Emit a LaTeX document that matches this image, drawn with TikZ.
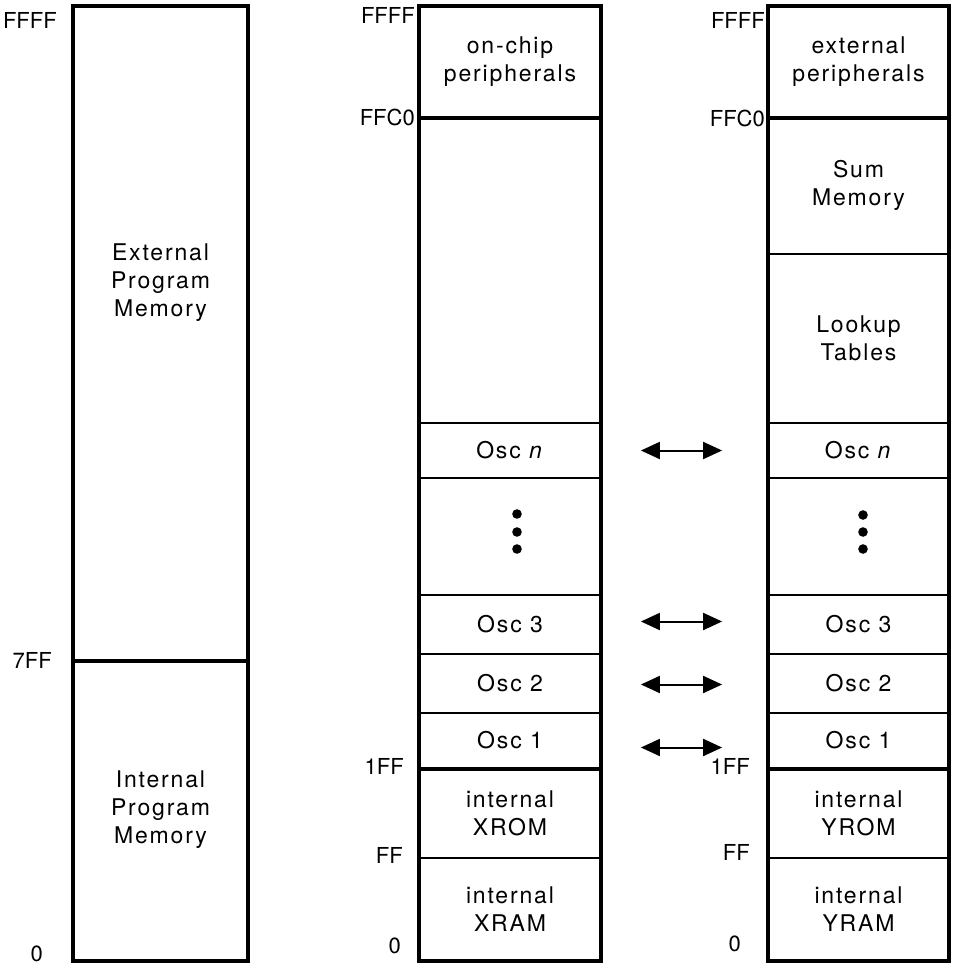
\documentclass[tikz,border=0pt]{standalone}
\usepackage{fontspec}
\setmainfont{TeX Gyre Heros}[LetterSpace=8]
\newfontfamily\addrfont{TeX Gyre Heros}
\usetikzlibrary{arrows.meta}

\begin{document}
\begin{tikzpicture}[x=1pt, y=-1pt,
    every node/.style={align=center, font=\fontsize{23}{28}\selectfont},
    seg/.style={draw, line width=1.8pt, inner sep=0pt},
    addr/.style={anchor=east, inner sep=0pt, font=\addrfont\fontsize{22}{24}\selectfont},
    frame/.style={line width=3.6pt},
    link/.style={{Triangle[length=19pt,width=17pt]}-{Triangle[length=19pt,width=17pt]}, line width=2pt}]

    \useasboundingbox (0,0) rectangle (953,966);

    % Program memory
    \node[seg, minimum width=173pt, minimum height=653pt] (pext) at (160.5,333.5) {};
    \node (ptext) at (160.5,283) {External\\Program\\Memory};
    \node[seg, minimum width=173pt, minimum height=300pt] (pint) at (160.5,810) {Internal\\Program\\Memory};
    \draw[frame] (pext.north west) rectangle (pint.south east);
    \draw[frame] (pext.south west) -- (pext.south east);
    \node[addr] (pffff) at (57,20) {FFFF};
    \node[addr] (p7ff) at (52,660) {7FF};
    \node[addr] (p0) at (43,954) {0};

    % X memory
    \node[seg, minimum width=180pt, minimum height=110pt] (xper) at (510,62) {on-chip\\peripherals};
    \node[seg, minimum width=180pt, minimum height=306pt] (xfree) at (510,270) {};
    \node[seg, minimum width=180pt, minimum height=55pt] (xoscn) at (510,450.5) {Osc \textit{n}};
    \node[seg, minimum width=180pt, minimum height=117pt] (xdots) at (510,536.5) {};
    \node[seg, minimum width=180pt, minimum height=59pt] (xosc3) at (510,624.5) {Osc 3};
    \node[seg, minimum width=180pt, minimum height=59pt] (xosc2) at (510,683.5) {Osc 2};
    \node[seg, minimum width=180pt, minimum height=55pt] (xosc1) at (510,740.5) {Osc 1};
    \node[seg, minimum width=180pt, minimum height=90pt] (xrom) at (510,813) {internal\\XROM};
    \node[seg, minimum width=180pt, minimum height=102pt] (xram) at (510,909) {internal\\XRAM};
    \draw[frame] (xper.north west) rectangle (xram.south east);
    \draw[frame] (xper.south west) -- (xper.south east);
    \draw[frame] (xosc1.south west) -- (xosc1.south east);
    \fill (517,514) circle (4.8) (517,532) circle (4.8) (517,549) circle (4.8);
    \node[addr] (xffff) at (415,15) {FFFF};
    \node[addr] (xffc0) at (415,117) {FFC0};
    \node[addr] (x1ff) at (404,766) {1FF};
    \node[addr] (xff) at (403,855) {FF};
    \node[addr] (x0) at (401,946) {0};

    % Y memory
    \node[seg, minimum width=179pt, minimum height=110pt] (yper) at (858.5,62) {external\\peripherals};
    \node[seg, minimum width=179pt, minimum height=137pt] (ysum) at (858.5,185.5) {Sum\\Memory};
    \node[seg, minimum width=179pt, minimum height=169pt] (ylut) at (858.5,338.5) {Lookup\\Tables};
    \node[seg, minimum width=179pt, minimum height=55pt] (yoscn) at (858.5,450.5) {Osc \textit{n}};
    \node[seg, minimum width=179pt, minimum height=117pt] (ydots) at (858.5,536.5) {};
    \node[seg, minimum width=179pt, minimum height=59pt] (yosc3) at (858.5,624.5) {Osc 3};
    \node[seg, minimum width=179pt, minimum height=59pt] (yosc2) at (858.5,683.5) {Osc 2};
    \node[seg, minimum width=179pt, minimum height=55pt] (yosc1) at (858.5,740.5) {Osc 1};
    \node[seg, minimum width=179pt, minimum height=90pt] (yrom) at (858.5,813) {internal\\YROM};
    \node[seg, minimum width=179pt, minimum height=102pt] (yram) at (858.5,909) {internal\\YRAM};
    \draw[frame] (yper.north west) rectangle (yram.south east);
    \draw[frame] (yper.south west) -- (yper.south east);
    \draw[frame] (yosc1.south west) -- (yosc1.south east);
    \fill (863,515) circle (4.8) (863,532) circle (4.8) (863,549) circle (4.8);
    \node[addr] (yffff) at (765,20) {FFFF};
    \node[addr] (yffc0) at (765,118) {FFC0};
    \node[addr] (y1ff) at (750,766) {1FF};
    \node[addr] (yff) at (750,852) {FF};
    \node[addr] (y0) at (741,944) {0};

    % oscillator links
    \draw[link] ([xshift=40pt]xoscn.east) -- ([xshift=-46pt]yoscn.west);
    \draw[link] ([xshift=40pt,yshift=3pt]xosc3.east) -- ([xshift=-46pt,yshift=3pt]yosc3.west);
    \draw[link] ([xshift=40pt,yshift=-1pt]xosc2.east) -- ([xshift=-46pt,yshift=-1pt]yosc2.west);
    \draw[link] ([xshift=40pt,yshift=-7pt]xosc1.east) -- ([xshift=-46pt,yshift=-7pt]yosc1.west);
\end{tikzpicture}
\end{document}
